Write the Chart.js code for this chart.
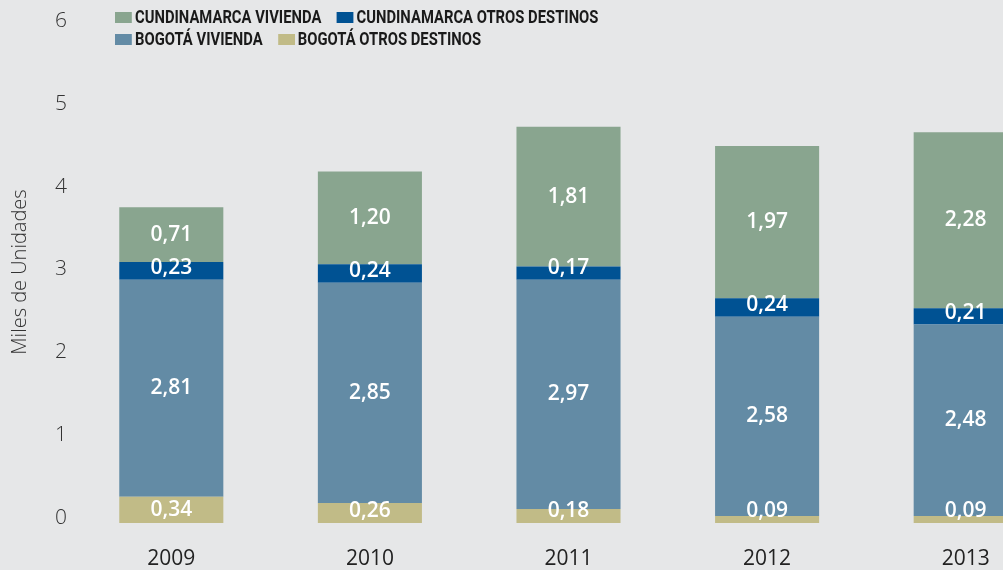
<!DOCTYPE html>
<html>
<head>
<meta charset="utf-8">
<script src="https://cdn.jsdelivr.net/npm/chart.js@4/dist/chart.umd.min.js"></script>
<style>
  html, body { margin: 0; padding: 0; background: #e6e7e8; }
  #wrap { position: relative; width: 1003px; height: 570px; overflow: hidden; }
  #chart { position: absolute; left: 0; top: 0; }
  #legend {
    position: absolute; left: 115px; top: 7px; width: 660px;
    transform: scaleX(0.80); transform-origin: left top;
    display: flex; flex-wrap: wrap; row-gap: 1px;
    font: bold 18.5px Roboto, sans-serif; color: #1a1a1a;
  }
  #legend .item { display: flex; align-items: center; margin-right: 19px; line-height: 21px; }
  #legend .box { width: 21px; height: 11px; margin-right: 4px; }
</style>
</head>
<body>
<div id="wrap">
  <canvas id="chart" width="1065" height="570"></canvas>
  <div id="legend"></div>
</div>
<script>
// DATOS
const years = ["2009", "2010", "2011", "2012", "2013"];
const bogotaOtros = [0.34, 0.26, 0.18, 0.09, 0.09];
const bogotaVivienda = [2.81, 2.85, 2.97, 2.58, 2.48];
const cundOtros = [0.23, 0.24, 0.17, 0.24, 0.21];
const cundVivienda = [0.71, 1.20, 1.81, 1.97, 2.28];
const yTickValues = [0, 1, 2, 3, 4, 5, 6];

// COLORES
const C_CUND_VIV = "#89a58f";
const C_CUND_OTR = "#005293";
const C_BOG_VIV = "#638ba5";
const C_BOG_OTR = "#c1bb87";

// etiquetas dentro de las barras
const valueLabels = {
  id: "valueLabels",
  afterDatasetsDraw(chart) {
    const ctx = chart.ctx;
    ctx.save();
    ctx.font = "600 21px 'Open Sans', sans-serif";
    ctx.fillStyle = "#ffffff";
    ctx.textAlign = "center";
    ctx.textBaseline = "middle";
    chart.data.datasets.forEach((ds, i) => {
      chart.getDatasetMeta(i).data.forEach((bar, j) => {
        let y = (bar.y + bar.base) / 2;
        if (y > bar.base - 12) y = bar.base - 12;
        ctx.fillText(ds.data[j].toFixed(2).replace(".", ","), bar.x, y);
      });
    });
    ctx.restore();
  }
};

const chart = new Chart(document.getElementById("chart").getContext("2d"), {
  type: "bar",
  data: {
    labels: years,
    datasets: [
      { label: "BOGOTÁ OTROS DESTINOS", data: bogotaOtros, backgroundColor: C_BOG_OTR },
      { label: "BOGOTÁ VIVIENDA", data: bogotaVivienda, backgroundColor: C_BOG_VIV },
      { label: "CUNDINAMARCA OTROS DESTINOS", data: cundOtros, backgroundColor: C_CUND_OTR },
      { label: "CUNDINAMARCA VIVIENDA", data: cundVivienda, backgroundColor: C_CUND_VIV }
    ]
  },
  options: {
    responsive: false,
    animation: false,
    devicePixelRatio: 1,
    layout: { padding: { top: 21, left: 0, right: 0, bottom: 0 } },
    datasets: { bar: { categoryPercentage: 1, barPercentage: 0.524, borderWidth: 0 } },
    plugins: { legend: { display: false }, tooltip: { enabled: false } },
    scales: {
      x: {
        stacked: true,
        grid: { display: false, drawTicks: false },
        border: { display: false },
        ticks: { color: "#222", font: { family: "'Open Sans', sans-serif", size: 21 }, padding: 23 },
        afterFit: s => { s.height = 47; }
      },
      y: {
        stacked: true,
        display: false,
        min: 0,
        max: 6.5
      },
      yTicks: {
        position: "left",
        min: -0.063,
        max: 6,
        grid: { display: false, drawTicks: false },
        border: { display: false },
        afterBuildTicks: s => { s.ticks = yTickValues.map(v => ({ value: v })); },
        ticks: { color: "#333", font: { family: "'Open Sans', sans-serif", size: 21, weight: "300" }, padding: 5 },
        title: {
          display: true,
          text: "Miles de Unidades",
          color: "#333",
          font: { family: "'Open Sans', sans-serif", size: 20, weight: "300" },
          padding: { top: 8, bottom: 0 }
        },
        afterFit: s => { s.width = 72; }
      }
    }
  },
  plugins: [valueLabels]
});

// LEYENDA
const legendOrder = [3, 2, 1, 0];
const legendEl = document.getElementById("legend");
legendOrder.forEach(i => {
  const ds = chart.data.datasets[i];
  const item = document.createElement("div");
  item.className = "item";
  item.innerHTML = '<span class="box" style="background:' + ds.backgroundColor + '"></span>' + ds.label;
  legendEl.appendChild(item);
});
</script>
</body>
</html>
